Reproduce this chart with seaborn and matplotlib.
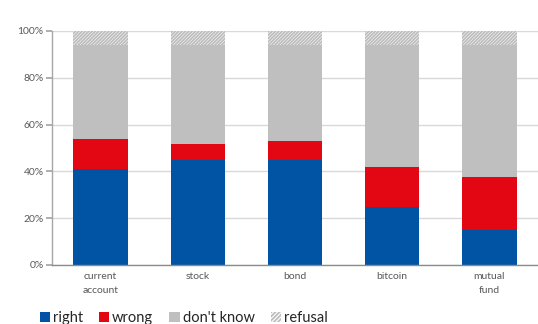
import matplotlib
matplotlib.use("Agg")
import matplotlib.pyplot as plt
import seaborn as sns
import pandas as pd
import numpy as np
from matplotlib.patches import Patch
from matplotlib.ticker import FuncFormatter

categories = ["current\naccount", "stock", "bond", "bitcoin", "mutual\nfund"]
right = [41, 45, 45, 25, 15]
wrong = [13, 6.5, 8, 17, 22.5]
dont_know = [40, 42.5, 41, 52, 56.5]
refusal = [6, 6, 6, 6, 6]
yticks = [0, 20, 40, 60, 80, 100]

sns.set_theme(style="white")
plt.rcParams['font.family'] = ['Lato', 'DejaVu Sans']
plt.rcParams['hatch.linewidth'] = 1.3

c_right = "#0054A3"
c_wrong = "#E30613"
c_dk = "#BFBFBF"
c_ref_hatch = "#BDBDBD"

fig = plt.figure(figsize=(5.38, 3.24), dpi=100)
ax = fig.add_axes([52/538, 1-265/324, (538-52)/538, (265-31)/324])

cum1 = np.array(right)
cum2 = cum1 + np.array(wrong)
cum3 = cum2 + np.array(dont_know)
cum4 = cum3 + np.array(refusal)

df = pd.DataFrame({"cat": categories, "c1": cum1, "c2": cum2, "c3": cum3, "c4": cum4})

ax.set_axisbelow(True)
ax.yaxis.grid(True, color="#D9D9D9", linewidth=1)
sns.barplot(data=df, x="cat", y="c4", color="white", saturation=1, width=0.56,
            edgecolor=c_ref_hatch, linewidth=0, hatch="/" * 10, ax=ax)
sns.barplot(data=df, x="cat", y="c3", color=c_dk, saturation=1, width=0.56,
            linewidth=0, ax=ax)
sns.barplot(data=df, x="cat", y="c2", color=c_wrong, saturation=1, width=0.56,
            linewidth=0, ax=ax)
sns.barplot(data=df, x="cat", y="c1", color=c_right, saturation=1, width=0.56,
            linewidth=0, ax=ax)

ax.set_ylim(0, 100)
ax.set_xlim(-0.5, len(categories) - 0.5)
ax.set_yticks(yticks)
ax.yaxis.set_major_formatter(FuncFormatter(lambda v, p: f"{int(v)}%"))
ax.set_xlabel("")
ax.set_ylabel("")
ax.tick_params(axis="y", length=4, color="#A6A6A6", labelsize=7.5, labelcolor="#595959", pad=2, left=True)
ax.tick_params(axis="x", length=0, labelsize=7.5, labelcolor="#595959", pad=5)
for lbl in ax.get_xticklabels():
    lbl.set_linespacing(1.7)
    lbl.set_verticalalignment("top")
for s in ["top", "right"]:
    ax.spines[s].set_visible(False)
ax.spines["left"].set_color("#A6A6A6")
ax.spines["bottom"].set_color("#8C8C8C")
ax.spines["left"].set_linewidth(1)
ax.spines["bottom"].set_linewidth(1)

handles = [
    Patch(facecolor=c_right, edgecolor="none", label="right"),
    Patch(facecolor=c_wrong, edgecolor="none", label="wrong"),
    Patch(facecolor=c_dk, edgecolor="none", label="don't know"),
    Patch(facecolor="white", edgecolor=c_ref_hatch, linewidth=0, hatch="/" * 8, label="refusal"),
]
fig.legend(handles=handles, loc="center left", bbox_to_anchor=(34/538, 1-318/324),
           ncol=4, frameon=False, fontsize=10.5, handlelength=0.7, handleheight=0.7,
           handletextpad=0.2, columnspacing=1.1, labelcolor="#262626", borderaxespad=0)

fig.savefig("out.png", dpi=100)
